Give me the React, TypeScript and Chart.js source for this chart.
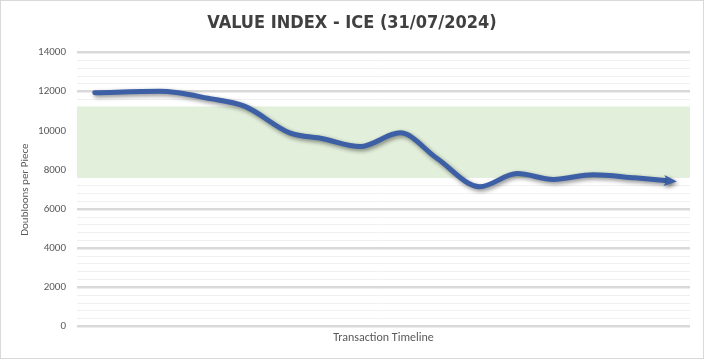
import React, { useEffect, useRef } from "react";
import { Chart, registerables } from "chart.js";

Chart.register(...registerables);

const chartTitle = "VALUE INDEX - ICE (31/07/2024)";
const yAxisTitle = "Doubloons per Piece";
const xAxisTitle = "Transaction Timeline";

// position along the transaction timeline (0-100 %)
const timeline = [2.9, 13.5, 21.7, 27.4, 34.7, 40.1, 46.2, 52.7, 58.7, 65.7, 71.8, 77.7, 84.2, 91.0, 96.4];
// doubloons per piece
const values = [11950, 12020, 11650, 11250, 9900, 9600, 9200, 9900, 8600, 7150, 7820, 7520, 7760, 7600, 7450];

// shaded value band
const bandLow = 7600;
const bandHigh = 11250;

const yMin = 0;
const yMax = 14000;
const yMinorStep = 400;
const yMajorStep = 2000;

const LINE_COLOR = "#3c5fa6";

const shadow = (ctx: CanvasRenderingContext2D) => {
  ctx.shadowColor = "rgba(0,0,0,0.45)";
  ctx.shadowBlur = 4;
  ctx.shadowOffsetX = 1.5;
  ctx.shadowOffsetY = 2;
};

const bandPlugin = {
  id: "band",
  beforeDatasetsDraw(chart: any) {
    const { ctx, chartArea, scales } = chart;
    const y1 = scales.y.getPixelForValue(bandHigh);
    const y2 = scales.y.getPixelForValue(bandLow);
    ctx.save();
    ctx.fillStyle = "#e2efda";
    ctx.fillRect(chartArea.left, y1, chartArea.right - chartArea.left, y2 - y1);
    ctx.restore();
  },
};

const shadowPlugin = {
  id: "lineShadow",
  beforeDatasetDraw(chart: any) {
    chart.ctx.save();
    shadow(chart.ctx);
  },
  afterDatasetDraw(chart: any) {
    chart.ctx.restore();
    const meta = chart.getDatasetMeta(0);
    const pts = meta.data;
    const n = pts.length;
    if (n < 2) return;
    const p = pts[n - 1];
    const q = pts[n - 2];
    const ang = Math.atan2(p.y - q.y, p.x - q.x);
    const ctx = chart.ctx;
    ctx.save();
    shadow(ctx);
    ctx.translate(p.x, p.y);
    ctx.rotate(ang);
    ctx.beginPath();
    ctx.moveTo(9, 0);
    ctx.lineTo(-4, -5.5);
    ctx.lineTo(-1, 0);
    ctx.lineTo(-4, 5.5);
    ctx.closePath();
    ctx.fillStyle = LINE_COLOR;
    ctx.fill();
    ctx.restore();
  },
};

const borderPlugin = {
  id: "outerBorder",
  afterDraw(chart: any) {
    const { ctx, width, height } = chart;
    ctx.save();
    ctx.strokeStyle = "#d9d9d9";
    ctx.lineWidth = 1;
    ctx.strokeRect(0.5, 0.5, width - 1, height - 1);
    ctx.restore();
  },
};

export default function App() {
  const ref = useRef<HTMLCanvasElement>(null);

  useEffect(() => {
    document.body.style.margin = "0";
    const canvas = ref.current;
    if (!canvas) return;
    const chart = new Chart(canvas, {
      type: "line",
      data: {
        datasets: [
          {
            data: timeline.map((t, i) => ({ x: t, y: values[i] })),
            borderColor: LINE_COLOR,
            borderWidth: 5,
            pointRadius: 0,
            cubicInterpolationMode: "monotone",
            fill: false,
            borderCapStyle: "round",
          } as any,
        ],
      },
      options: {
        animation: false,
        responsive: false,
        maintainAspectRatio: false,
        layout: { padding: { left: 14, right: 14, top: 0, bottom: 14 } },
        plugins: {
          legend: { display: false },
          tooltip: { enabled: false },
          title: {
            display: true,
            text: chartTitle,
            color: "#404040",
            font: { family: "'Liberation Sans Narrow', 'DejaVu Sans Condensed', sans-serif", size: 18, weight: "bold" },
            padding: { top: 13, bottom: 18 },
          },
        },
        scales: {
          x: {
            type: "linear",
            min: 0,
            max: 100,
            grid: { display: false, drawTicks: false },
            border: { display: false },
            ticks: { display: false },
            title: {
              display: true,
              text: xAxisTitle,
              color: "#595959",
              font: { family: "Carlito, 'Liberation Sans', sans-serif", size: 12 },
              padding: { top: 4, bottom: 0 },
            },
          },
          y: {
            min: yMin,
            max: yMax,
            afterFit(scale: any) {
              scale.width = 63;
            },
            border: { display: false },
            grid: {
              drawTicks: false,
              color: (c: any) => (c.tick && c.tick.value % yMajorStep === 0 ? "#d9d9d9" : "#f0f0f0"),
              lineWidth: (c: any) => (c.tick && c.tick.value % yMajorStep === 0 ? 2.5 : 1),
            },
            ticks: {
              stepSize: yMinorStep,
              autoSkip: false,
              padding: 11,
              color: "#595959",
              font: { family: "Carlito, 'Liberation Sans', sans-serif", size: 11 },
              callback: (v: any) => (Number(v) % yMajorStep === 0 ? String(v) : ""),
            },
            title: {
              display: true,
              text: yAxisTitle,
              color: "#595959",
              font: { family: "Carlito, 'Liberation Sans', sans-serif", size: 11 },
              padding: { top: 5, bottom: 0 },
            },
          },
        },
      },
      plugins: [bandPlugin, shadowPlugin, borderPlugin],
    });
    return () => chart.destroy();
  }, []);

  return (
    <div style={{ width: 704, height: 359, background: "#fff" }}>
      <canvas ref={ref} width={704} height={359} style={{ display: "block", width: 704, height: 359 }} />
    </div>
  );
}
